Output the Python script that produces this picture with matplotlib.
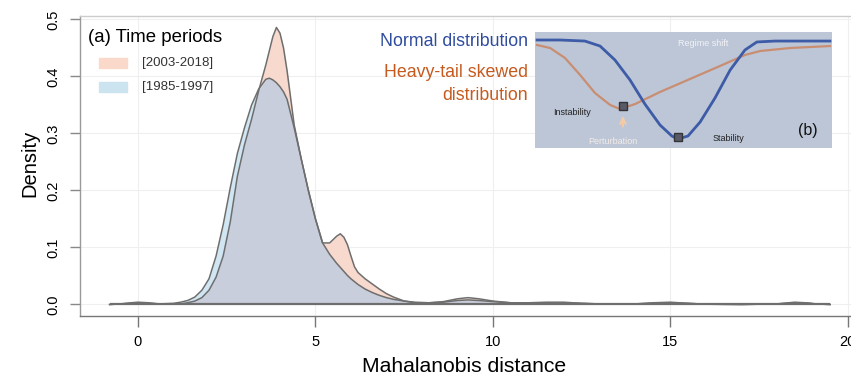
import matplotlib
matplotlib.use("Agg")
import matplotlib.pyplot as plt
import numpy as np
from matplotlib.patches import Rectangle

plt.rcParams['font.family'] = ['Liberation Sans', 'DejaVu Sans']

# ---------------- data ----------------
dist = [-0.8, -0.5, -0.2, 0.0, 0.3, 0.6,
        1.0, 1.2, 1.4, 1.6, 1.8,
        2.0, 2.2, 2.4, 2.6, 2.8,
        3.0, 3.2, 3.4, 3.6, 3.7, 3.8, 3.9,
        4.0, 4.1, 4.2, 4.4, 4.6, 4.8,
        5.0, 5.2, 5.4, 5.6, 5.7, 5.8, 5.9,
        6.0, 6.1, 6.2, 6.4, 6.6, 6.8,
        7.0, 7.2, 7.5, 7.8,
        8.2, 8.6,
        9.0, 9.3, 9.6,
        10.0, 10.5, 11.0, 11.5, 12.0, 12.5, 13.0,
        14.0, 14.5, 15.0, 15.5, 16.0, 17.0,
        18.0, 18.5, 18.8, 19.1, 19.5]

dens_1985_1997 = [0, 0.001, 0.003, 0.004, 0.003, 0.001,
                  0.002, 0.004, 0.007, 0.013, 0.025,
                  0.045, 0.085, 0.14, 0.205, 0.265,
                  0.31, 0.35, 0.378, 0.395, 0.397, 0.394, 0.389,
                  0.382, 0.373, 0.36, 0.31, 0.255, 0.2,
                  0.15, 0.108, 0.088, 0.072, 0.065, 0.058, 0.051,
                  0.045, 0.04, 0.035, 0.027, 0.021, 0.016,
                  0.012, 0.009, 0.006, 0.004,
                  0.003, 0.004,
                  0.007, 0.008, 0.007,
                  0.005, 0.003, 0.003, 0.004, 0.004, 0.002, 0.001,
                  0.001, 0.003, 0.004, 0.002, 0.0005, 0.0,
                  0.001, 0.004, 0.003, 0.001, 0.0]

dens_2003_2018 = [0, 0.001, 0.002, 0.002, 0.002, 0.001,
                  0.0005, 0.001, 0.003, 0.006, 0.012,
                  0.025, 0.048, 0.085, 0.145, 0.225,
                  0.28, 0.325, 0.375, 0.42, 0.445, 0.47, 0.486,
                  0.476, 0.45, 0.41, 0.315, 0.255, 0.2,
                  0.15, 0.108, 0.108, 0.12, 0.124, 0.118, 0.105,
                  0.085, 0.066, 0.056, 0.045, 0.036, 0.027,
                  0.019, 0.013, 0.006, 0.003,
                  0.003, 0.005,
                  0.01, 0.012, 0.01,
                  0.006, 0.003, 0.002, 0.003, 0.003, 0.002, 0.001,
                  0.001, 0.002, 0.003, 0.002, 0.0005, 0.0,
                  0.001, 0.003, 0.003, 0.001, 0.0]

x_ticks = [0, 5, 10, 15, 20]
y_ticks = [0.0, 0.1, 0.2, 0.3, 0.4, 0.5]
legend_labels = ["[2003-2018]", "[1985-1997]"]

# schematic inset (b): landscape curves in inset units
normal_u = [0.007, 0.084, 0.168, 0.219, 0.269, 0.320, 0.370, 0.421, 0.461, 0.481,
            0.515, 0.556, 0.606, 0.657, 0.707, 0.747, 0.808, 0.993]
normal_v = [0.931, 0.931, 0.922, 0.879, 0.759, 0.586, 0.379, 0.198, 0.103, 0.078,
            0.103, 0.224, 0.431, 0.672, 0.845, 0.914, 0.922, 0.922]
skewed_u = [0.007, 0.051, 0.101, 0.152, 0.202, 0.253, 0.286, 0.337, 0.421, 0.522,
            0.623, 0.707, 0.758, 0.859, 0.993]
skewed_v = [0.888, 0.862, 0.776, 0.629, 0.474, 0.371, 0.336, 0.379, 0.483, 0.595,
            0.707, 0.802, 0.836, 0.862, 0.879]

# ---------------- figure ----------------
W, H = 851, 380
fig = plt.figure(figsize=(W / 100, H / 100), dpi=100)


def fx(p):
    return p / W


def fy(p):
    return 1 - p / H


ax = fig.add_axes([fx(80), fy(316), (866 - 80) / W, (316 - 16) / H])
ax.set_xlim(-1.634, 20.51)
ax.set_ylim(-0.0202, 0.5061)

x = np.array(dist)
b = np.array(dens_1985_1997)
o = np.array(dens_2003_2018)

c_orange = '#F7D9CE'
c_blue = '#D0E6F3'
c_overlap = '#C9CEDC'
c_line = '#6e6e6e'

ax.fill_between(x, 0, o, color=c_orange, lw=0, zorder=2)
ax.fill_between(x, 0, b, color=c_blue, lw=0, zorder=2)
ax.fill_between(x, 0, np.minimum(o, b), color=c_overlap, lw=0, zorder=3)
ax.plot(x, o, color=c_line, lw=1.1, zorder=4)
ax.plot(x, b, color=c_line, lw=1.1, zorder=4)
ax.hlines(0, x[0], x[-1], color=c_line, lw=1.6, zorder=4)

ax.grid(True, color='#EFEFEF', lw=0.8)
ax.set_axisbelow(True)

ax.set_xticks(x_ticks)
ax.set_xticklabels([str(t) for t in x_ticks])
ax.set_yticks(y_ticks)
ax.set_yticklabels([f"{t:.1f}" for t in y_ticks])
ax.tick_params(axis='x', length=8, pad=5.5, labelsize=10.5, color='#777777', width=1)
ax.tick_params(axis='y', length=7, pad=7, labelsize=10.5, color='#888888',
               width=1, labelrotation=90)
for lab in ax.get_yticklabels():
    lab.set_verticalalignment('center')

ax.spines['right'].set_visible(False)
ax.spines['top'].set_color('#CCCCCC')
ax.spines['left'].set_color('#999999')
ax.spines['bottom'].set_color('#777777')
for s in ax.spines.values():
    s.set_linewidth(1.0)

fig.text(fx(30), fy(163), 'Density', rotation=90, ha='center', va='center', fontsize=14.5)
fig.text(fx(464), fy(367), 'Mahalanobis distance', ha='center', va='center', fontsize=15.2)

# legend (a)
fig.text(fx(88), fy(37), '(a) Time periods', ha='left', va='center', fontsize=13.4)
for lab, col, yc in zip(legend_labels, ['#FAD8CA', '#CCE3F0'], [63, 87]):
    fig.patches.append(Rectangle((fx(99), fy(yc + 5)), 28 / W, 10 / H, color=col,
                                 transform=fig.transFigure, zorder=5))
    fig.text(fx(142), fy(yc), lab, ha='left', va='center', fontsize=9.5, color='#333333')

# annotations for inset
fig.text(fx(528), fy(41), 'Normal distribution', ha='right', va='center',
         fontsize=12.8, color='#2F4C9E')
fig.text(fx(528), fy(84), 'Heavy-tail skewed\ndistribution', ha='right', va='center',
         fontsize=12.8, color='#C65A1E', linespacing=1.45, multialignment='right')

# inset (b)
ia = fig.add_axes([fx(535), fy(148), 297 / W, 116 / H])
ia.set_xlim(0, 1)
ia.set_ylim(0, 1)
ia.set_facecolor('#BCC6D6')
ia.set_xticks([])
ia.set_yticks([])
for s in ia.spines.values():
    s.set_visible(False)
ia.plot(skewed_u, skewed_v, color='#C98E72', lw=1.6)
ia.plot(normal_u, normal_v, color='#3D5BA6', lw=2.0)
ia.plot([skewed_u[6] + 0.01], [skewed_v[6] + 0.03], marker='s', ms=6,
        color='#5a5a66', mec='#33333a')
ia.plot([normal_u[9]], [normal_v[9] + 0.02], marker='s', ms=6,
        color='#5a5a66', mec='#33333a')
ia.annotate('', xy=(0.296, 0.30), xytext=(0.296, 0.16),
            arrowprops=dict(arrowstyle='->', color='#F3CBA6', lw=1.5))
ia.text(0.125, 0.31, 'Instability', fontsize=6.5, color='#222222', ha='center', va='center')
ia.text(0.65, 0.08, 'Stability', fontsize=6.5, color='#222222', ha='center', va='center')
ia.text(0.263, 0.06, 'Perturbation', fontsize=6.5, color='#F4ECE8', ha='center', va='center')
ia.text(0.566, 0.905, 'Regime shift', fontsize=6.5, color='#F2F2F6', ha='center', va='center')
ia.text(0.92, 0.155, '(b)', fontsize=11.5, color='#111111', ha='center', va='center')

fig.savefig('out.png', dpi=100)
